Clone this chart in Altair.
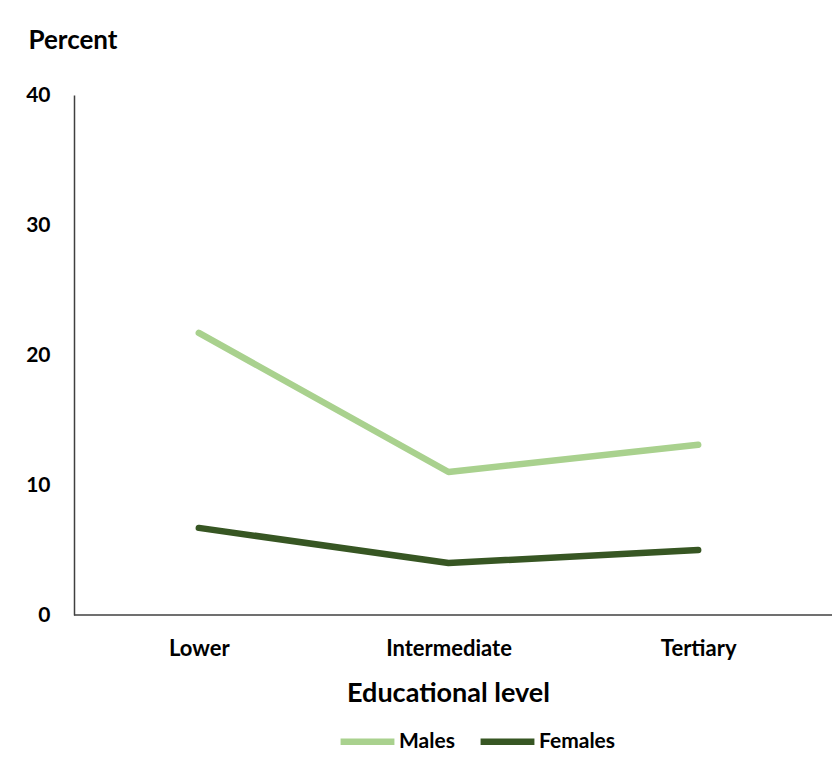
import altair as alt
import pandas as pd

levels = ["Lower", "Intermediate", "Tertiary"]
males = [21.7, 11.0, 13.1]
females = [6.7, 4.0, 5.0]
series = ["Males", "Females"]
colors = ["#A9D18E", "#375623"]

rows = []
for s, vals in zip(series, [males, females]):
    for lvl, v in zip(levels, vals):
        rows.append({"level": lvl, "value": v, "series": s})
df = pd.DataFrame(rows)

FONT = "Lato"
W, H = 749, 520

lines = alt.Chart(df).mark_line(strokeWidth=6.5, strokeCap="round", strokeJoin="round").encode(
    x=alt.X("level:N", sort=levels,
            scale=alt.Scale(type="point", padding=0.5),
            axis=alt.Axis(title="Educational level", labelAngle=0, ticks=False, domain=False,
                          labelFont=FONT, labelFontSize=22, labelFontWeight="bold", labelColor="#000000",
                          labelPadding=23,
                          titleFont=FONT, titleFontSize=27, titleFontWeight="bold", titleColor="#000000",
                          titleX=374, titleY=86, titleAlign="center", titleBaseline="alphabetic")),
    y=alt.Y("value:Q", scale=alt.Scale(domain=[0, 40]),
            axis=alt.Axis(title="Percent", values=[0, 10, 20, 30, 40], grid=False, ticks=False,
                          domainColor="#404040", domainWidth=1.5,
                          labelFont=FONT, labelFontSize=21, labelFontWeight="bold", labelColor="#000000",
                          labelPadding=24,
                          titleFont=FONT, titleFontSize=26, titleFontWeight="bold", titleColor="#000000",
                          titleAngle=0, titleX=-46, titleY=-47, titleAlign="left", titleBaseline="alphabetic")),
    color=alt.Color("series:N", sort=series,
                    scale=alt.Scale(domain=series, range=colors),
                    legend=alt.Legend(title=None, orient="none", direction="horizontal",
                                      legendX=263, legendY=616,
                                      symbolType="stroke", symbolSize=2900, symbolStrokeWidth=6.5,
                                      labelFont=FONT, labelFontSize=21, labelFontWeight="bold",
                                      labelColor="#000000", labelOffset=1, columnPadding=12, padding=0)),
)

baseline = alt.Chart(pd.DataFrame({"v": [0]})).mark_rule(color="#404040", strokeWidth=1.5).encode(
    x=alt.value(0), x2=alt.value(W + 9), y=alt.value(H)
)

chart = alt.layer(baseline, lines).properties(
    width=W, height=H,
    autosize=alt.AutoSizeParams(type="none"),
    padding={"left": 66, "top": 87, "right": 9, "bottom": 138},
).configure_view(stroke=None)

chart.save("out.html", embed_options={"renderer": "svg", "actions": False})
